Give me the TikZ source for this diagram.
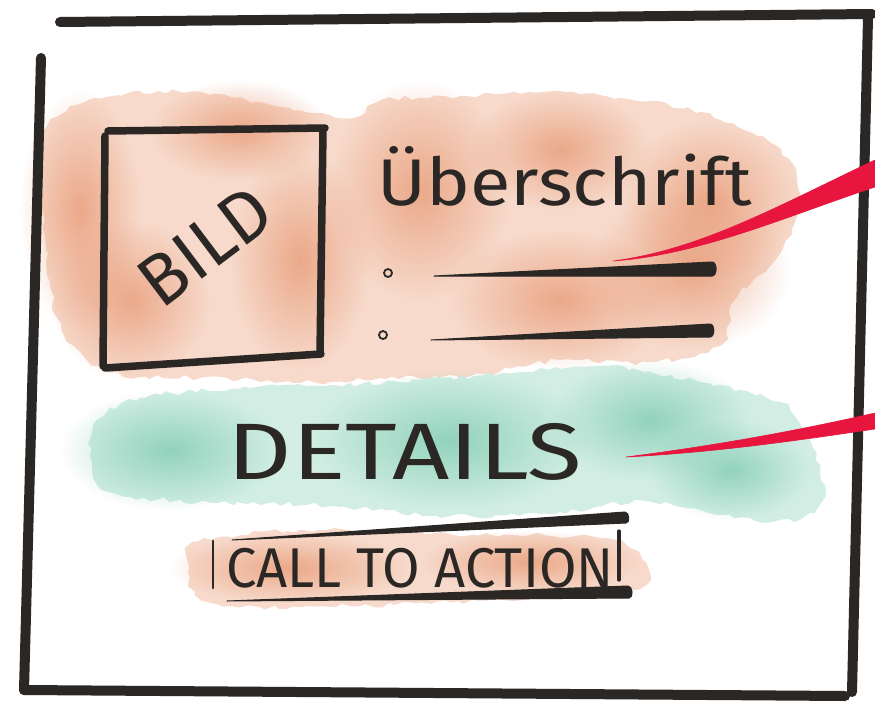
\documentclass[tikz,border=0pt]{standalone}
\usepackage{fontspec}
\setmainfont{Fira Sans}
\usetikzlibrary{fadings,decorations.pathmorphing}
\definecolor{ink}{HTML}{2A2725}
\definecolor{orL}{HTML}{F7DACB}
\definecolor{orD}{HTML}{E58E66}
\definecolor{grL}{HTML}{D2EEE4}
\definecolor{grD}{HTML}{6FC4A8}
\definecolor{pointer}{HTML}{E8163F}
\tikzfading[name=softspot, inner color=transparent!35, outer color=transparent!100]
\tikzset{
  frameline/.style={draw=ink,line width=10pt,line cap=round},
  boxline/.style={draw=ink,line width=7.5pt,line cap=round},
  stroke/.style={fill=ink,draw=ink,line width=1pt,line join=round},
  redptr/.style={fill=pointer,draw=pointer,line width=0.6pt,line join=round},
  wash/.style={path fading=softspot},
  rough/.style={decorate,decoration={random steps,segment length=7pt,amplitude=2.5pt}},
  hand/.style={text=ink,inner sep=0pt}
}
\begin{document}
\begin{tikzpicture}[x=1pt,y=-1pt]
\useasboundingbox[fill=white] (0,0) rectangle (875,706);
% ---------- orange wash ----------
\fill[orL,rough] plot[smooth cycle,tension=0.6] coordinates {
 (48,125) (95,98) (180,92) (260,102) (345,118) (385,100) (460,96) (545,92)
 (620,98) (700,112) (775,145) (800,195) (782,250) (735,300) (720,345)
 (650,362) (560,360) (470,376) (380,378) (330,382) (200,378) (110,372)
 (62,330) (46,250) (42,170)};
\begin{scope}[orD]
\fill[wash] (80,210) ellipse (60 and 120);
\fill[wash] (130,300) ellipse (80 and 80);
\fill[wash] (300,260) ellipse (70 and 110);
\fill[wash] (420,190) ellipse (90 and 110);
\fill[wash] (690,270) ellipse (100 and 80);
\fill[wash] (710,200) ellipse (90 and 80);
\fill[wash] (560,300) ellipse (110 and 70);
\fill[wash] (240,130) ellipse (90 and 50);
\fill[wash] (560,150) ellipse (90 and 60);
\end{scope}
% ---------- green wash ----------
\fill[grL,rough] plot[smooth cycle,tension=0.6] coordinates {
 (95,425) (140,398) (250,388) (400,382) (520,372) (600,366) (700,382)
 (780,402) (810,440) (822,500) (770,522) (650,502) (560,512) (450,516)
 (330,506) (200,502) (110,492) (92,462)};
\begin{scope}[grD]
\fill[wash] (170,450) ellipse (110 and 60);
\fill[wash] (450,440) ellipse (140 and 70);
\fill[wash] (650,420) ellipse (100 and 60);
\fill[wash] (730,470) ellipse (80 and 50);
\end{scope}
% ---------- CTA wash ----------
\fill[orL,rough] plot[smooth cycle,tension=0.6] coordinates {
 (198,542) (300,530) (450,534) (600,538) (642,560) (632,590) (500,600)
 (350,606) (230,606) (195,592) (188,562)};
\begin{scope}[orD]
\fill[wash] (290,568) ellipse (120 and 35);
\fill[wash] (530,562) ellipse (110 and 32);
\end{scope}
% ---------- frame ----------
\draw[frameline] (60,22) -- (872,14);
\draw[frameline] (868,18) -- (852,692);
\draw[frameline] (41,58) -- (24,690);
\draw[frameline] (24,690) -- (845,696);
% ---------- image box ----------
\draw[boxline] (108,131) -- (325,128);
\draw[boxline] (323,130) -- (320,354);
\draw[boxline] (105,368) -- (321,354);
\draw[boxline] (105,136) -- (103,366);
\node[hand,font=\fontsize{72}{72}\selectfont,rotate=37] (bild) at (205,246) {BILD};
% ---------- heading and bullets ----------
\node[hand,font=\fontsize{66}{66}\selectfont] (head) at (565,176) {\scalebox{1.12}[1]{Überschrift}};
\draw[ink,line width=1.8pt] (388,273) circle (4);
\draw[ink,line width=1.8pt] (383,335) circle (4);
\path[stroke] (434,276) -- (712,262) to[out=0,in=0] (712,276) -- cycle;
\path[stroke] (431,340) -- (710,324) to[out=0,in=0] (710,337) -- cycle;
% ---------- details ----------
\node[hand,font=\fontsize{80}{80}\selectfont] (details) at (405,452) {\scalebox{1.25}[1]{DETAILS}};
% ---------- call to action ----------
\path[stroke] (232,540) -- (625,512) to[out=0,in=0] (626,523) -- cycle;
\path[stroke] (227,601) -- (628,586) to[out=0,in=0] (629,598) -- cycle;
\draw[ink,line width=2.6pt,line cap=round] (213,541) -- (213,588);
\draw[ink,line width=3.2pt,line cap=round] (619,531) -- (619,580);
\node[hand,font=\fontsize{56}{56}\selectfont] (cta) at (420,568) {\scalebox{0.97}[1]{CALL TO ACTION}};
% ---------- red pointers ----------
\path[redptr] (613,261) .. controls (700,250) and (780,205) .. (875,160) -- (875,187) .. controls (790,215) and (700,255) .. (613,261) -- cycle;
\path[redptr] (626,457) .. controls (720,445) and (800,430) .. (875,413) -- (875,429) .. controls (800,440) and (720,452) .. (626,457) -- cycle;
\end{tikzpicture}
\end{document}
